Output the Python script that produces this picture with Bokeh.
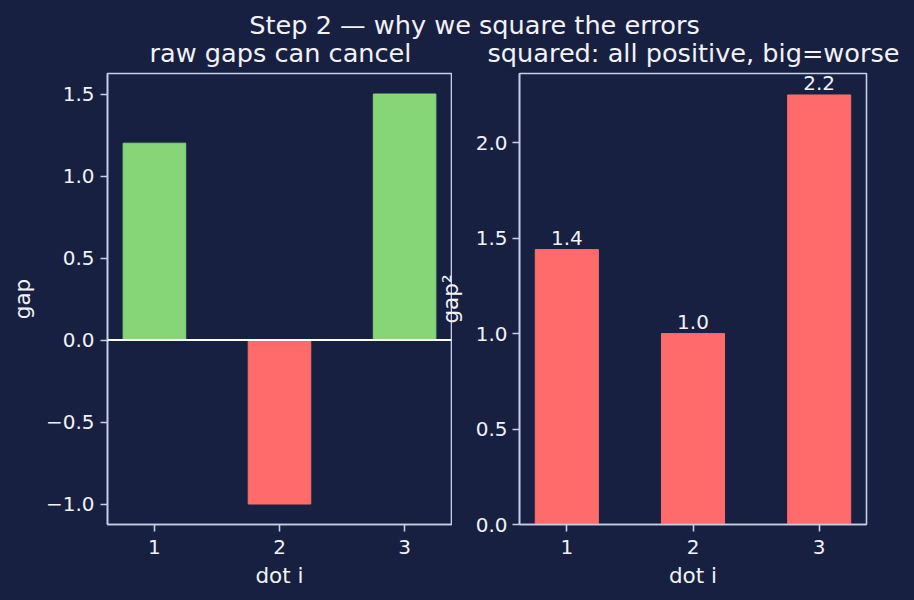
from bokeh.plotting import figure
from bokeh.layouts import column, row
from bokeh.models import Span, Label, LabelSet, FixedTicker, CustomJSTickFormatter, ColumnDataSource
from bokeh.core.properties import value
from bokeh.embed import file_html
from bokeh.resources import INLINE

# ---- data ----
dots = [1, 2, 3]
gaps = [1.2, -1.0, 1.5]
squared = [1.44, 1.0, 2.25]
left_yticks = [-1.0, -0.5, 0.0, 0.5, 1.0, 1.5]
right_yticks = [0.0, 0.5, 1.0, 1.5, 2.0]

suptitle = "Step 2 \u2014 why we square the errors"
left_title = "raw gaps can cancel"
right_title = "squared: all positive, big=worse"

# ---- style ----
BG = "#172040"
SPINE = "#c8cde6"
TEXT = "#f2f2f7"
GREEN = "#86d677"
RED = "#ff6b6b"
FONT = "DejaVu Sans"

fmt = CustomJSTickFormatter(code="return tick.toFixed(1).replace('-', '\u2212');")


def style(p, yticks, ylabel):
    p.background_fill_color = BG
    p.border_fill_color = BG
    p.outline_line_color = SPINE
    p.outline_line_width = 1.6
    p.xgrid.visible = False
    p.ygrid.visible = False
    for ax in (p.xaxis, p.yaxis):
        ax.axis_line_color = SPINE
        ax.axis_line_width = 1.6
        ax.major_tick_line_color = SPINE
        ax.major_tick_line_width = 1.6
        ax.major_tick_out = 7
        ax.major_tick_in = 0
        ax.minor_tick_line_color = None
        ax.major_label_text_font = FONT
        ax.major_label_text_font_size = "20px"
        ax.major_label_text_color = TEXT
        ax.major_label_standoff = 6
        ax.axis_label_text_font = FONT
        ax.axis_label_text_font_size = "21.5px"
        ax.axis_label_text_font_style = "normal"
        ax.axis_label_text_color = TEXT
        ax.axis_label_standoff = 8
    p.xaxis.major_label_standoff = 8
    p.xaxis.axis_label_standoff = 6
    p.xaxis.ticker = FixedTicker(ticks=dots)
    p.xaxis.axis_label = "dot i"
    p.yaxis.ticker = FixedTicker(ticks=yticks)
    p.yaxis.formatter = fmt
    p.yaxis.axis_label = ylabel


def title_label(text, x, y, size="25.6px"):
    return Label(x=x, y=y, x_units="screen", y_units="screen", text=text,
                 text_align="center", text_baseline="middle", text_font=FONT,
                 text_font_size=size, text_color=TEXT)


# top title strip (suptitle + panel titles)
TOP_H = 70
FRAME_TOP = 73
top = figure(width=914, height=TOP_H, output_backend="svg", toolbar_location=None,
             min_border=0, x_range=(0, 1), y_range=(0, 1))
top.axis.visible = False
top.grid.visible = False
top.outline_line_color = None
top.background_fill_color = BG
top.border_fill_color = BG
top.add_layout(title_label(suptitle, 474, TOP_H - 24))
top.add_layout(title_label(left_title, 280, TOP_H - 52))
top.add_layout(title_label(right_title, 693, TOP_H - 52))

# left panel
left = figure(width=452, height=600 - TOP_H, output_backend="svg", toolbar_location=None,
              x_range=(0.625, 3.375), y_range=(-1.125, 1.625),
              min_border_left=107, min_border_right=1, min_border_top=FRAME_TOP - TOP_H,
              min_border_bottom=76)
style(left, left_yticks, "gap")
src_l = ColumnDataSource(dict(x=dots, top=gaps, color=[GREEN if g >= 0 else RED for g in gaps]))
left.vbar(x="x", top="top", bottom=0, width=0.5, color="color", source=src_l)
left.add_layout(Span(location=0, dimension="width", line_color="white", line_width=2))

# right panel (overlaps the left canvas a little so its y label can sit where it does)
SHIFT = 25
right = figure(width=462 + SHIFT, height=600 - TOP_H, output_backend="svg", toolbar_location=None,
               x_range=(0.625, 3.375), y_range=(0, 2.3625),
               min_border_left=67 + SHIFT, min_border_right=48, min_border_top=FRAME_TOP - TOP_H,
               min_border_bottom=76)
style(right, right_yticks, "gap\u00b2")
right.border_fill_color = None
right.styles = {"margin-left": f"-{SHIFT}px"}
right.yaxis.major_label_standoff = 5
right.yaxis.axis_label_standoff = 10
src_r = ColumnDataSource(dict(x=dots, top=squared, label=[f"{v:.1f}" for v in squared]))
right.vbar(x="x", top="top", bottom=0, width=0.5, color=RED, source=src_r)
right.add_layout(LabelSet(x="x", y="top", text="label", source=src_r, y_offset=5,
                          text_align="center", text_baseline="bottom", text_font=value(FONT),
                          text_font_size=value("20px"), text_color=TEXT))

layout = column(top, row(left, right, spacing=0), spacing=0)
layout.styles = {"background-color": BG}

with open("out.html", "w") as f:
    f.write(file_html(layout, INLINE))
